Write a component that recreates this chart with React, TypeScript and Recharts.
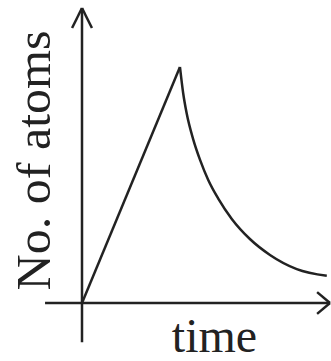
import React from 'react';
import { LineChart, Line, XAxis, YAxis, ReferenceLine, Label } from 'recharts';

// Data
const riseTime = [0, 3.95];
const riseAtoms = [0, 8];
const decayTime = [3.95, 4.08, 4.22, 4.49, 4.76, 5.09, 5.5, 6.04, 6.77, 7.58, 8.66, 9.87];
const decayAtoms = [8, 7.11, 6.43, 5.53, 4.85, 4.17, 3.53, 2.85, 2.17, 1.63, 1.15, 0.92];

const xLabel = 'time';
const yLabel = 'No. of atoms';

const riseData = riseTime.map((t, i) => ({ t, n: riseAtoms[i] }));
const decayData = decayTime.map((t, i) => ({ t, n: decayAtoms[i] }));

const INK = '#222';
const FONT = '"Liberation Serif", "Times New Roman", serif';

const YLab = (props: any) => {
  const vb = props.viewBox || { x: 0, y: 0, width: 0, height: 0 };
  const cx = vb.x + 50;
  const cy = vb.y + vb.height / 2 + 5;
  return (
    <text
      x={cx}
      y={cy}
      transform={`rotate(-90, ${cx}, ${cy})`}
      textAnchor="middle"
      fontFamily={FONT}
      fontSize={48}
      fill={INK}
      textLength={260}
      lengthAdjust="spacingAndGlyphs"
    >
      {yLabel}
    </text>
  );
};

const XLab = (props: any) => {
  const vb = props.viewBox || { x: 0, y: 0, width: 0, height: 0 };
  return (
    <text
      x={vb.x + 132.5}
      y={vb.y + 49}
      textAnchor="middle"
      fontFamily={FONT}
      fontSize={48}
      fill={INK}
    >
      {xLabel}
    </text>
  );
};

export default function App() {
  const axisStroke = { stroke: INK, strokeWidth: 2.5 };
  return (
    <div style={{ position: 'absolute', left: 0, top: 0, width: 331, height: 361, background: '#fff' }}>
      <LineChart width={331} height={361} margin={{ top: 8, right: 1, bottom: 0, left: 0 }}>
        <XAxis
          type="number"
          dataKey="t"
          domain={[0, 10]}
          allowDataOverflow
          height={58}
          tick={false}
          tickLine={false}
          axisLine={false}
        >
          <Label content={XLab} />
        </XAxis>
        <YAxis
          type="number"
          dataKey="n"
          domain={[0, 10]}
          allowDataOverflow
          width={82}
          tick={false}
          tickLine={false}
          axisLine={false}
        >
          <Label content={YLab} />
        </YAxis>
        {/* axes */}
        <ReferenceLine segment={[{ x: 0, y: -1.33 }, { x: 0, y: 10 }]} ifOverflow="visible" {...axisStroke} />
        <ReferenceLine segment={[{ x: -1.49, y: 0 }, { x: 10, y: 0 }]} ifOverflow="visible" {...axisStroke} />
        {/* arrow heads */}
        <ReferenceLine segment={[{ x: -0.4, y: 9.32 }, { x: 0, y: 10 }]} ifOverflow="visible" {...axisStroke} />
        <ReferenceLine segment={[{ x: 0.4, y: 9.32 }, { x: 0, y: 10 }]} ifOverflow="visible" {...axisStroke} />
        <ReferenceLine segment={[{ x: 9.48, y: 0.37 }, { x: 10, y: 0 }]} ifOverflow="visible" {...axisStroke} />
        <ReferenceLine segment={[{ x: 9.48, y: -0.37 }, { x: 10, y: 0 }]} ifOverflow="visible" {...axisStroke} />
        <Line
          data={riseData}
          dataKey="n"
          type="linear"
          stroke={INK}
          strokeWidth={2.5}
          dot={false}
          activeDot={false}
          isAnimationActive={false}
        />
        <Line
          data={decayData}
          dataKey="n"
          type="monotone"
          stroke={INK}
          strokeWidth={2.5}
          dot={false}
          activeDot={false}
          isAnimationActive={false}
        />
      </LineChart>
    </div>
  );
}
